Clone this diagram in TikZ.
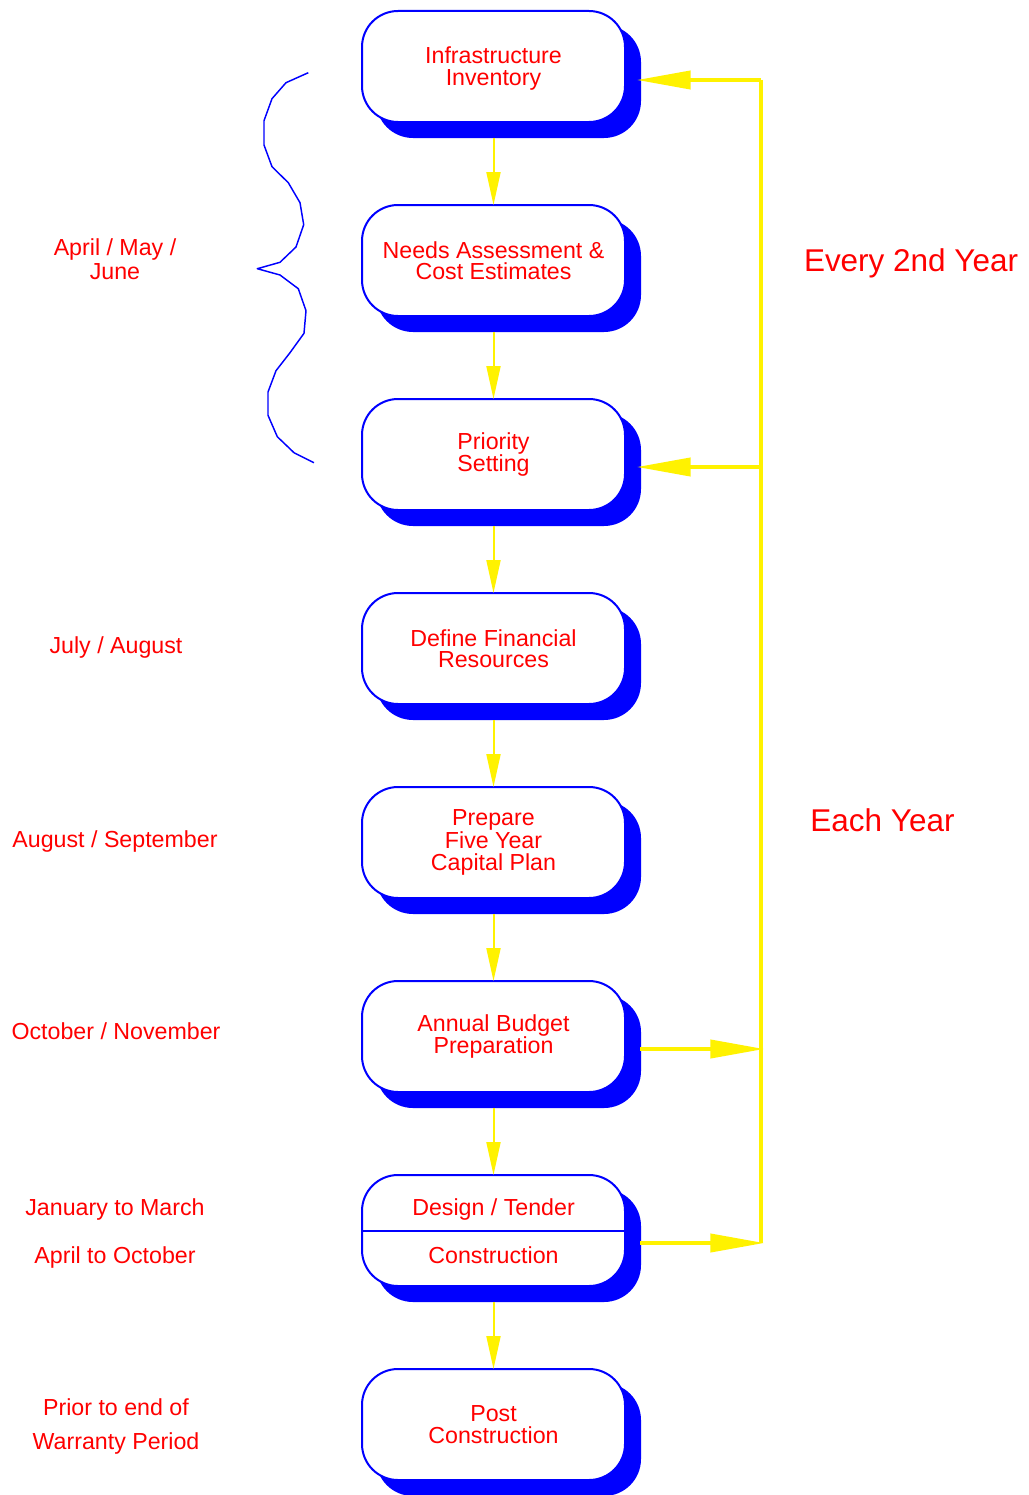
\documentclass[tikz,border=0pt]{standalone}
\usepackage{fontspec}
\setmainfont{Liberation Sans}
\usetikzlibrary{arrows.meta,shadows,calc}
\newcommand\boxfont{\fontsize{17.4}{16.1}\selectfont}
\newcommand\bigfont{\fontsize{23.6}{26}\selectfont}
\begin{document}
\begin{tikzpicture}[x=0.75pt,y=-0.75pt,
  procbox/.style={rectangle, draw=blue, line width=1.5pt, fill=white,
    rounded corners=27pt, minimum width=197.25pt, minimum height=83.25pt,
    inner sep=0pt, text=red, align=center, font=\boxfont,
    general shadow={shadow xshift=11.25pt, shadow yshift=-11.25pt, fill=blue, draw=blue}},
  plain/.style={text=red, align=center, font=\boxfont, inner sep=0pt},
  lbl/.style={text=red, font=\boxfont, inner sep=0pt, anchor=base},
  bigtext/.style={text=red, font=\bigfont, inner sep=0pt, anchor=base},
  downarrow/.style={draw=yellow, line width=1.5pt, shorten >=-0.75pt, -{Triangle[length=24.75pt,width=10.5pt]}},
  sidearrow/.style={draw=yellow, line width=3pt, shorten >=-2.5pt, -{Triangle[length=40.5pt,width=13.5pt]}},
  sideline/.style={draw=yellow, line width=3pt},
  bracestyle/.style={draw=blue, line width=1.1pt, line join=round}
]
\useasboundingbox (0,0) rectangle (1028,1495);

% process boxes
\node[procbox] (inv)  at (493.5,66.5)   {\\[-0.2pt]Infrastructure\\Inventory};
\node[procbox] (need) at (493.5,260.5)  {Needs Assessment \&\\Cost Estimates};
\node[procbox] (prio) at (493.5,454.5)  {Priority\\Setting};
\node[procbox] (fin)  at (493.5,648.5)  {Define Financial\\Resources};
\node[procbox] (plan) at (493.5,842.5)  {Prepare\\Five Year\\Capital Plan};
\node[procbox] (bud)  at (493.5,1036.5) {Annual Budget\\Preparation};
\node[procbox] (des)  at (493.5,1230.5) {};
\node[procbox] (post) at (493.5,1424.5) {Post\\Construction};

\draw[draw=blue, line width=1.5pt] (des.west) -- (des.east);
\node[lbl] (desa) at (493.5,1215) {Design / Tender};
\node[lbl] (desb) at (493.5,1263) {Construction};

% down arrows
\foreach \a/\b in {inv/need, need/prio, prio/fin, fin/plan, plan/bud, bud/des, des/post}{
  \draw[downarrow] ([yshift=-11.25pt]\a.south) -- (\b.north);
}

% right side loop
\coordinate (e1) at ($(inv.east)+(14,13.5)$);
\coordinate (e3) at ($(prio.east)+(14,12.5)$);
\coordinate (e6) at ($(bud.east)+(14,12.5)$);
\coordinate (e7) at ($(des.east)+(14,12.5)$);
\coordinate (r1) at (761,80);
\coordinate (r3) at (761,467);
\coordinate (r6) at (761,1049);
\coordinate (r7) at (761,1243);

\draw[sideline] (r1) -- (r7);
\draw[sidearrow] (r1) -- (e1);
\draw[sidearrow] (r3) -- (e3);
\draw[sidearrow] (e6) -- (r6);
\draw[sidearrow] (e7) -- (r7);

% right labels
\node[bigtext] (every) at (911,271) {Every 2nd Year};
\node[bigtext] (each)  at (882.5,831) {Each Year};

% left labels
\node[plain, font={\fontsize{17.4}{18}\selectfont}] (amj) at (115,259) {April / May /\\June};
\node[lbl] (ja)  at (116,653)  {July / August};
\node[lbl] (as)  at (115,847)  {August / September};
\node[lbl] (on)  at (116,1039) {October / November};
\node[lbl] (jm)  at (115,1215) {January to March};
\node[lbl] (ao)  at (115,1263) {April to October};
\node[lbl] (pe)  at (116,1415) {Prior to end of};
\node[lbl] (wp)  at (116,1449) {Warranty Period};

% brace
\draw[bracestyle] (308.3,72.7) -- (286,82.7) -- (272,98.7) -- (264,120.7) -- (264,145)
  -- (272,166.7) -- (288.3,182.7) -- (300,202.7) -- (303.7,224.7) -- (296,247)
  -- (280,262.3) -- (257.3,268.7) -- (280,275) -- (298.3,288.7) -- (306,310.7)
  -- (304,333.3) -- (290,352.7) -- (276,370.7) -- (268,392) -- (268,415.3)
  -- (277.3,436.7) -- (294,452.7) -- (314,462.7);
\end{tikzpicture}
\end{document}
